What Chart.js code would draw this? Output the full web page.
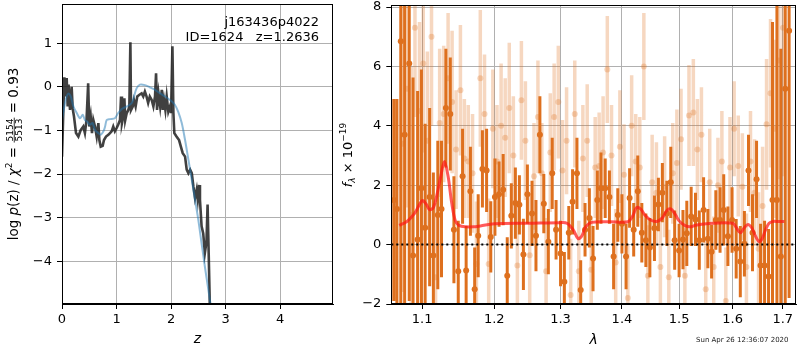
<!DOCTYPE html>
<html>
<head>
<meta charset="utf-8">
<script src="https://cdn.jsdelivr.net/npm/chart.js@4"></script>
<style>
body { margin: 0; background: #fff; width: 800px; height: 350px; overflow: hidden; position: relative; }
#pz { position: absolute; left: 0; top: 0; }
#spec { position: absolute; left: 330px; top: 0; }
</style>
</head>
<body>
<canvas id="pz" width="340" height="350"></canvas>
<canvas id="spec" width="470" height="350"></canvas>
<script>
// ---- left panel: log p(z)
const zDark = [0, 0.025, 0.043, 0.067, 0.086, 0.104, 0.12, 0.147, 0.177, 0.196,
  0.22, 0.257, 0.30, 0.343, 0.39, 0.42, 0.45, 0.48, 0.50, 0.526,
  0.55, 0.575, 0.605, 0.636, 0.667, 0.685, 0.71, 0.746, 0.77, 0.807,
  0.85, 0.88, 0.91, 0.94, 0.97, 1.0, 1.03, 1.064, 1.083, 1.10,
  1.125, 1.144, 1.16, 1.187, 1.217, 1.235, 1.254, 1.266, 1.297, 1.32,
  1.35, 1.38, 1.42, 1.46, 1.49, 1.52, 1.55, 1.58, 1.61, 1.645,
  1.676, 1.706, 1.725, 1.743, 1.77, 1.80, 1.83, 1.847, 1.87, 1.896,
  1.92, 1.95, 1.98, 2.0, 2.025, 2.043, 2.06, 2.10, 2.147, 2.18,
  2.214, 2.257, 2.287, 2.318, 2.35, 2.38, 2.41, 2.44, 2.47, 2.49,
  2.514, 2.53, 2.56, 2.59, 2.62, 2.65, 2.67, 2.69, 2.71, 2.74];
const pzDark = [-1.6, -0.53, 0.22, -0.22, 0.2, -0.45, 0.05, -0.53, 0.0, -0.5,
  -0.68, -1.06, -1.14, -0.99, -0.91, -1.06, -0.76, 0.08, -0.91, -0.68,
  -1.06, -0.76, -0.91, -1.14, -0.83, -1.22, -1.37, -1.35, -1.22, -1.14,
  -1.1, -1.06, -1.02, -0.91, -1.02, -0.95, -0.87, -0.76, -0.22, -0.83,
  -0.68, -0.26, -0.76, -0.6, -0.53, -0.45, 1.02, -0.53, -0.45, -0.3,
  -0.45, -0.22, -0.18, -0.15, -0.22, -0.11, -0.22, -0.37, -0.22, -0.3,
  -0.45, -0.22, 0.31, -0.53, -0.15, -0.45, -0.07, -0.53, -0.3, -0.53,
  -0.22, -0.57, -0.45, -0.6, 0.93, -0.6, -1.06, -1.14, -1.22, -1.37,
  -1.52, -1.6, -1.9, -1.98, -1.9, -1.98, -2.29, -2.55, -2.36, -2.58,
  -2.25, -2.59, -3.2, -3.36, -3.81, -3.55, -2.7, -3.81, -4.96, -5.6];
const zSmooth = [0, 0.055, 0.086, 0.116, 0.16, 0.21, 0.27, 0.33, 0.38, 0.42,
  0.465, 0.51, 0.56, 0.605, 0.667, 0.71, 0.76, 0.79, 0.82, 0.88,
  0.97, 1.03, 1.095, 1.187, 1.28, 1.32, 1.37, 1.43, 1.52, 1.61,
  1.706, 1.80, 1.89, 1.98, 2.07, 2.13, 2.196, 2.257, 2.318, 2.38,
  2.44, 2.50, 2.56, 2.62, 2.685, 2.75];
const pzSmooth = [-0.76, -0.37, -0.22, -0.15, -0.22, -0.45, -0.6, -0.72, -0.64, -0.76,
  -0.8, -0.87, -0.83, -0.99, -1.06, -1.1, -1.02, -0.91, -0.76, -0.74,
  -0.72, -0.6, -0.51, -0.45, -0.37, -0.22, -0.03, 0.05, 0.04, -0.01,
  -0.07, -0.15, -0.22, -0.3, -0.41, -0.57, -0.83, -1.22, -1.67, -2.13,
  -2.59, -3.05, -3.59, -4.12, -4.66, -5.2];
const zTicks = [0, 1, 2, 3, 4];
const pzTicks = [-4, -3, -2, -1, 0, 1];

// ---- right panel: spectrum
const darkWave = [1.063, 1.067, 1.072, 1.077, 1.083, 1.088, 1.094, 1.099, 1.104, 1.110, 1.115, 1.121,
  1.126, 1.132, 1.138, 1.143, 1.149, 1.155, 1.160, 1.166, 1.172, 1.177,
  1.183, 1.189, 1.195, 1.201, 1.207, 1.213, 1.219, 1.225, 1.231, 1.237,
  1.243, 1.249, 1.256, 1.262, 1.268, 1.274, 1.281, 1.287, 1.293, 1.300,
  1.306, 1.313, 1.319, 1.326, 1.332, 1.339, 1.346, 1.352, 1.359, 1.365,
  1.372, 1.379, 1.386, 1.393, 1.400, 1.407, 1.413, 1.420, 1.427, 1.434,
  1.441, 1.448, 1.456, 1.463, 1.470, 1.478, 1.485, 1.492, 1.500, 1.507,
  1.514, 1.522, 1.530, 1.537, 1.545, 1.553, 1.560, 1.568, 1.576, 1.583,
  1.591, 1.599, 1.607, 1.615, 1.623, 1.631, 1.639, 1.647, 1.655, 1.663,
  1.671, 1.679, 1.688, 1.696, 1.705, 1.713];
const darkFlux = [1.5, 1.2,
  6.85, 3.7, 6.1, -0.37, 0.17, 1.9, 0.57, 1.6, -0.37, 1.0,
  1.2, 4.6, 4.4, 0.5, -0.9, 2.3, -0.87, 1.8, -1.5, 0.3,
  2.55, 2.5, 0.26, 1.6, 1.7, 1.85, -1.05, 0.97, 1.4, 1.34,
  -0.33, 1.7, 1.05, 0.3, 3.7, 1.38, 0.1, 2.4, 0.5, -0.3,
  -1.25, 0.4, 1.44, 2.4, -1.53, 0.5, 0.9, -0.47, 1.5, 1.9,
  1.9, 1.6, -0.4, 1.0, 0.7, -0.4, 1.57, 0.5, 1.8, 0.4,
  0.15, -0.1, 0.55, 1.35, 1.75, 1.05, 2.1, 0.15, -0.2, 0.17,
  0.38, 0.95, 0.85, 0.15, 1.17, 0.2, -0.24, 0.83, 0.83, 1.17,
  0.28, 0.83, -0.14, -0.57, 0.03, 2.5, 0.4, 2.2, -0.7, -0.7,
  -1.07, 1.5, 1.5, -0.4, 5.25, 7.2];
const darkErr = [3.4, 3.7,
  9, 7, 8, 6, 5, 4, 3.5, 3, 2.8, 2.5,
  2.3, 2.0, 1.9, 1.8, 1.7, 1.6, 1.5, 1.5, 1.4, 1.4,
  1.3, 1.4, 1.2, 1.3, 1.1, 1.2, 1.3, 1.1, 1.2, 1.0,
  1.2, 1.0, 1.1, 1.2, 1.3, 1.0, 1.1, 1.2, 1.0, 1.1,
  1.0, 0.9, 1.1, 1.2, 1.0, 0.9, 1.0, 1.1, 1.0, 1.2,
  1.0, 0.9, 1.1, 0.9, 1.0, 1.1, 1.0, 0.9, 1.2, 1.0,
  0.9, 1.0, 1.1, 0.9, 1.0, 1.1, 1.2, 1.0, 0.9, 1.0,
  1.1, 1.0, 0.9, 1.0, 1.1, 1.0, 0.9, 1.0, 1.1, 1.2,
  1.0, 1.1, 1.0, 1.2, 1.1, 1.2, 1.3, 1.3, 1.4, 1.5,
  1.6, 6, 7, 7, 8, 9];

const lightWave = [1.0745, 1.080, 1.0855, 1.0905, 1.0965, 1.1015, 1.107, 1.1125, 1.118, 1.1235,
  1.129, 1.135, 1.1405, 1.146, 1.152, 1.1575, 1.163, 1.169, 1.1745, 1.180,
  1.186, 1.192, 1.198, 1.204, 1.210, 1.216, 1.222, 1.228, 1.234, 1.240,
  1.246, 1.2525, 1.259, 1.265, 1.271, 1.2775, 1.284, 1.290, 1.2965, 1.303,
  1.3095, 1.316, 1.3225, 1.329, 1.3355, 1.3425, 1.349, 1.3555, 1.362, 1.3685,
  1.3755, 1.3825, 1.3895, 1.3965, 1.4035, 1.410, 1.4165, 1.4235, 1.4305, 1.4375,
  1.4445, 1.452, 1.4595, 1.4665, 1.474, 1.4815, 1.4885, 1.496, 1.5035, 1.5105,
  1.518, 1.526, 1.5335, 1.541, 1.549, 1.5565, 1.564, 1.572, 1.5795, 1.587,
  1.595, 1.603, 1.611, 1.619, 1.627, 1.635, 1.643, 1.651, 1.659, 1.667,
  1.675, 1.6835, 1.692, 1.7005];
const lightFlux = [3.4, 5.25, 1.0, 7.3, 4.5, 6.1, 3.5, 7.0, -1.1, 4.1,
  4.4, 5.6, 4.8, 3.2, 5.2, 2.9, 2.8, 2.4, -0.65, 5.6,
  4.4, -0.65, 3.9, 2.8, 4.0, 3.6, 4.6, 3.0, -0.7, 4.86,
  3.5, -0.36, 2.3, 4.3, 2.4, -0.9, 3.1, 4.3, 4.8, 2.5,
  3.5, -1.7, 4.4, -0.9, 2.9, 3.5, -0.85, 2.6, 2.65, 3.1,
  5.9, 3.0, -0.6, 3.3, 2.35, -1.8, 4.0, 2.8, 2.6, 6.0,
  -1.05, 2.1, 1.75, -0.75, 1.95, -1.1, 2.4, 2.75, 3.55, -1.05,
  4.35, 4.45, 3.2, 3.7, -1.5, 2.1, -0.75, 2.0, 2.8, -1.9,
  2.6, 3.9, 2.65, 1.95, -0.75, 2.8, 1.75, -0.14, 1.3, 4.05,
  5.1, 3.9, 6.2, 7.3];
const lightErr = [5, 4, 5, 3, 3, 3, 3, 3, 2.5, 2.5,
  2.3, 2.2, 2.4, 2, 2.2, 2, 1.9, 2, 2.1, 2.3,
  2, 2.2, 2, 1.9, 2.1, 2, 2.2, 2, 2.1, 2,
  2, 2.1, 1.8, 1.9, 1.7, 1.8, 2.0, 1.8, 1.9, 1.7,
  1.8, 1.9, 1.8, 1.7, 1.8, 1.9, 1.8, 1.7, 1.8, 1.9,
  1.8, 1.7, 1.8, 1.9, 1.7, 1.8, 1.7, 1.6, 1.7, 1.8,
  1.7, 1.6, 1.7, 1.8, 1.7, 1.6, 1.7, 1.8, 1.7, 1.6,
  1.7, 1.8, 1.7, 1.6, 1.7, 1.8, 1.7, 1.6, 1.7, 1.8,
  1.7, 1.6, 1.7, 1.8, 1.8, 1.7, 1.8, 1.9, 2, 2.2,
  2.5, 3, 4, 5];

const modelWave = [1.07, 1.08, 1.09, 1.1, 1.105, 1.11, 1.115, 1.12, 1.125, 1.13,
  1.135, 1.14, 1.145, 1.15, 1.16, 1.17, 1.18, 1.2, 1.25, 1.3,
  1.31, 1.32, 1.328, 1.334, 1.34, 1.35, 1.38, 1.41, 1.418, 1.425,
  1.432, 1.44, 1.45, 1.46, 1.47, 1.478, 1.485, 1.492, 1.5, 1.51,
  1.52, 1.53, 1.55, 1.6, 1.608, 1.615, 1.622, 1.63, 1.638, 1.645,
  1.652, 1.658, 1.665, 1.672, 1.68, 1.69, 1.703];
const modelFlux = [0.65, 0.78, 1.05, 1.48, 1.38, 1.18, 1.25, 1.7, 2.3, 2.8,
  2.3, 1.4, 0.8, 0.65, 0.6, 0.6, 0.63, 0.7, 0.72, 0.74,
  0.72, 0.5, 0.2, 0.3, 0.6, 0.75, 0.77, 0.77, 0.95, 1.25,
  1.2, 0.98, 0.82, 0.78, 0.9, 1.15, 1.2, 1.05, 0.8, 0.65,
  0.6, 0.65, 0.7, 0.72, 0.55, 0.4, 0.55, 0.68, 0.55, 0.28,
  0.1, 0.2, 0.5, 0.72, 0.78, 0.78, 0.78];
const waveTicks = [1.1, 1.2, 1.3, 1.4, 1.5, 1.6, 1.7];
const fluxTicks = [-2, 0, 2, 4, 6, 8];
const zeroLevel = 0;

const waveMin = 1.0598, waveMax = 1.7273;

Chart.defaults.font.family = 'DejaVu Sans';
Chart.defaults.font.size = 13;
Chart.defaults.color = '#000';

const ORANGE = 'rgb(222,112,30)';
const ORANGE_LIGHT = 'rgba(222,112,30,0.28)';

function minusFmt(v) {
  return v < 0 ? '\u2212' + Math.abs(v) : '' + v;
}

function pairs(xs, ys) {
  return xs.map((x, i) => ({x: x, y: ys[i]}));
}

// vertical error segments, broken with nulls
function errSegments(w, f, e) {
  const pts = [];
  for (let i = 0; i < w.length; i++) {
    pts.push({x: w[i], y: f[i] - e[i]}, {x: w[i], y: f[i] + e[i]}, {x: w[i], y: null});
  }
  return pts;
}

// draw a row of text pieces centred on (x,y), rotated
function drawParts(ctx, parts, x, y, angle) {
  ctx.save();
  ctx.translate(x, y);
  ctx.rotate(angle);
  ctx.fillStyle = '#000';
  ctx.textBaseline = 'alphabetic';
  ctx.textAlign = 'left';
  let total = 0;
  const widths = parts.map(p => {
    let w;
    ctx.font = p.font;
    if (p.frac) {
      w = Math.max(ctx.measureText(p.frac[0]).width, ctx.measureText(p.frac[1]).width) + 2;
    } else {
      w = ctx.measureText(p.t).width;
    }
    total += w;
    return w;
  });
  let cx = -total / 2;
  parts.forEach((p, i) => {
    ctx.font = p.font;
    if (p.frac) {
      const w = widths[i];
      ctx.textAlign = 'center';
      ctx.fillText(p.frac[0], cx + w / 2, -5);
      ctx.fillText(p.frac[1], cx + w / 2, 3.5);
      ctx.textAlign = 'left';
      ctx.fillRect(cx, -4.2, w, 0.8);
    } else {
      ctx.fillText(p.t, cx, p.dy || 0);
    }
    cx += widths[i];
  });
  ctx.restore();
}

const framePlugin = {
  id: 'frame',
  afterDatasetsDraw(chart) {
    const a = chart.chartArea, ctx = chart.ctx;
    ctx.save();
    ctx.strokeStyle = '#000';
    ctx.lineWidth = 1;
    ctx.strokeRect(Math.round(a.left) + 0.5, Math.round(a.top) + 0.5,
      Math.round(a.right - a.left) - 1, Math.round(a.bottom - a.top) - 1);
    ctx.restore();
  }
};

const common = {
  responsive: false,
  animation: false,
  devicePixelRatio: 1,
  events: [],
  plugins: { legend: { display: false }, tooltip: { enabled: false } }
};

function gridOpts() {
  return { color: '#b0b0b0', lineWidth: 1, tickLength: 5, tickColor: '#000', tickWidth: 1 };
}

// fixed axis sizes, no extra label padding
function fixX(s) { s.height = 46; s.paddingLeft = 0; s.paddingRight = 0; }
function fixY(w) { return s => { s.width = w; s.paddingTop = 0; s.paddingBottom = 0; }; }

// ----- left chart
new Chart(document.getElementById('pz'), {
  type: 'scatter',
  data: {
    datasets: [
      {
        data: pairs(zSmooth, pzSmooth), showLine: true, borderColor: 'rgba(31,119,180,0.5)',
        borderWidth: 2, pointRadius: 0, tension: 0.3, clip: 0, order: 0
      },
      {
        data: pairs(zDark, pzDark), showLine: true, borderColor: 'rgba(30,30,30,0.85)',
        borderWidth: 2.6, pointRadius: 0, tension: 0, clip: 0, order: 1
      }
    ]
  },
  options: Object.assign({}, common, {
    layout: { padding: { left: 0, top: 4, right: 7, bottom: 0 } },
    scales: {
      x: {
        type: 'linear', min: 0, max: 4.97,
        afterBuildTicks: s => { s.ticks = zTicks.map(v => ({value: v})); },
        afterFit: fixX,
        grid: gridOpts(), border: { color: '#000', width: 1 },
        ticks: { padding: 3, callback: v => minusFmt(v), maxRotation: 0 }
      },
      y: {
        type: 'linear', min: -4.98, max: 1.9,
        afterBuildTicks: s => { s.ticks = pzTicks.map(v => ({value: v})); },
        afterFit: fixY(62),
        grid: gridOpts(), border: { color: '#000', width: 1 },
        ticks: { padding: 5, callback: v => minusFmt(v) }
      }
    }
  }),
  plugins: [framePlugin, {
    id: 'pzText',
    afterDraw(chart) {
      const ctx = chart.ctx;
      ctx.save();
      ctx.fillStyle = '#000';
      ctx.font = '13px DejaVu Sans';
      ctx.textAlign = 'right';
      ctx.fillText('j163436p4022', 319, 26);
      ctx.fillText('ID=1624   z=1.2636', 319, 41);
      ctx.textAlign = 'center';
      ctx.font = 'italic 14px DejaVu Sans';
      ctx.fillText('z', (chart.chartArea.left + chart.chartArea.right) / 2, 343);
      ctx.restore();
      const f = '13.5px DejaVu Sans', fi = 'italic 13.5px DejaVu Sans', fs = '9px DejaVu Sans';
      drawParts(ctx, [
        {t: 'log ', font: f}, {t: 'p', font: fi}, {t: '(z) / ', font: f},
        {t: '\u03c7', font: fi}, {t: '2', font: fs, dy: -6}, {t: ' = ', font: f},
        {frac: ['5154', '5513'], font: fs}, {t: ' = 0.93', font: f}
      ], 18, 154, -Math.PI / 2);
    }
  }]
});

// ----- right chart
new Chart(document.getElementById('spec'), {
  type: 'scatter',
  data: {
    datasets: [
      {
        data: [{x: waveMin, y: zeroLevel}, {x: waveMax, y: zeroLevel}], showLine: true,
        borderColor: '#000', borderWidth: 2, borderDash: [2, 3], pointRadius: 0, clip: 0, order: 0
      },
      {
        data: pairs(modelWave, modelFlux), showLine: true, borderColor: 'rgba(255,20,20,0.7)',
        borderWidth: 3, pointRadius: 0, tension: 0.35, clip: 0, order: 1
      },
      {
        data: pairs(darkWave, darkFlux), showLine: false, pointRadius: 3, pointBorderWidth: 0,
        backgroundColor: ORANGE, clip: 0, order: 2
      },
      {
        data: errSegments(darkWave, darkFlux, darkErr), showLine: true, spanGaps: false,
        borderColor: ORANGE, borderWidth: 3, borderCapStyle: 'butt', pointRadius: 0, clip: 0, order: 3
      },
      {
        data: pairs(lightWave, lightFlux), showLine: false, pointRadius: 3, pointBorderWidth: 0,
        backgroundColor: ORANGE_LIGHT, clip: 0, order: 4
      },
      {
        data: errSegments(lightWave, lightFlux, lightErr), showLine: true, spanGaps: false,
        borderColor: ORANGE_LIGHT, borderWidth: 3.5, borderCapStyle: 'butt', pointRadius: 0, clip: 0, order: 5
      }
    ]
  },
  options: Object.assign({}, common, {
    layout: { padding: { left: 0, top: 5, right: 2, bottom: 0 } },
    scales: {
      x: {
        type: 'logarithmic', min: waveMin, max: waveMax,
        afterBuildTicks: s => { s.ticks = waveTicks.map(v => ({value: v})); },
        afterFit: fixX,
        grid: gridOpts(), border: { color: '#000', width: 1 },
        ticks: { padding: 3, callback: v => Number(v).toFixed(1), maxRotation: 0, autoSkip: false }
      },
      y: {
        type: 'linear', min: -2, max: 8.07,
        afterBuildTicks: s => { s.ticks = fluxTicks.map(v => ({value: v})); },
        afterFit: fixY(61.3),
        grid: gridOpts(), border: { color: '#000', width: 1 },
        ticks: { padding: 5, callback: v => minusFmt(v) }
      }
    }
  }),
  plugins: [framePlugin, {
    id: 'specText',
    afterDraw(chart) {
      const ctx = chart.ctx;
      ctx.save();
      ctx.fillStyle = '#000';
      ctx.textAlign = 'center';
      ctx.font = 'italic 14px DejaVu Sans';
      ctx.fillText('\u03bb', (chart.chartArea.left + chart.chartArea.right) / 2, 344);
      ctx.textAlign = 'left';
      ctx.font = '7px DejaVu Sans';
      ctx.fillStyle = '#222';
      ctx.fillText('Sun Apr 26 12:36:07 2020', 366, 342);
      ctx.restore();
      const f = '13px DejaVu Sans', fi = 'italic 13px DejaVu Sans', fs = '9px DejaVu Sans', fsi = 'italic 9px DejaVu Sans';
      drawParts(ctx, [
        {t: 'f', font: fi}, {t: '\u03bb', font: fsi, dy: 3}, {t: ' \u00d7 10', font: f},
        {t: '\u221219', font: fs, dy: -6}
      ], 22, 155, -Math.PI / 2);
    }
  }]
});
</script>
</body>
</html>
